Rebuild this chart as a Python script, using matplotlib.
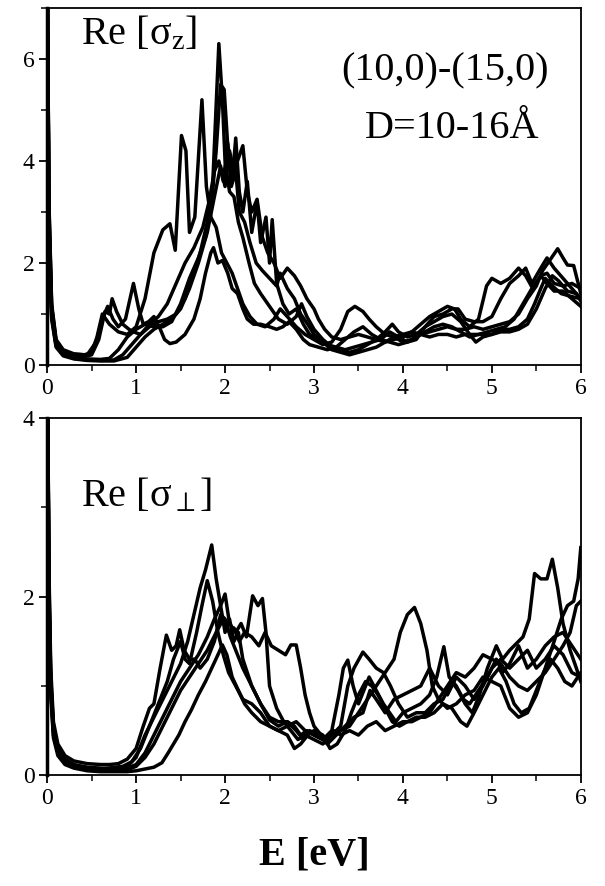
import matplotlib
matplotlib.use("Agg")
import matplotlib.pyplot as plt
from matplotlib.ticker import MultipleLocator

plt.rcParams["font.family"] = ["Liberation Serif", "DejaVu Serif"]
plt.rcParams["mathtext.fontset"] = "custom"
plt.rcParams["mathtext.rm"] = "Liberation Serif"
plt.rcParams["mathtext.it"] = "Liberation Serif:italic"

# ── Re[sigma_z] : (E [eV], value) for six tubes ──────────────────────────────
sz_e1 = [0, 0.02, 0.05, 0.1, 0.18, 0.3, 0.42, 0.5, 0.56, 0.62, 0.7, 0.8, 0.9, 1.0, 1.1, 1.2, 1.3, 1.38, 1.44, 1.51, 1.56, 1.6, 1.66, 1.74, 1.79, 1.84, 1.9, 1.96, 2.02, 2.08, 2.14, 2.2, 2.28, 2.36, 2.45, 2.55, 2.62, 2.7, 2.8, 2.9, 3.0, 3.1, 3.2, 3.3, 3.38, 3.46, 3.55, 3.62, 3.7, 3.8, 3.9, 4.0, 4.1, 4.2, 4.3, 4.4, 4.5, 4.58, 4.65, 4.75, 4.85, 4.94, 5.0, 5.1, 5.2, 5.3, 5.38, 5.46, 5.55, 5.62, 5.7, 5.8, 5.9, 6.0]
sz_v1 = [8, 3.2, 1.2, 0.5, 0.3, 0.22, 0.2, 0.25, 0.55, 1.0, 0.8, 0.65, 0.6, 0.75, 1.3, 2.2, 2.65, 2.77, 2.25, 4.5, 4.2, 2.6, 2.9, 5.2, 3.5, 2.9, 2.7, 2.2, 2.0, 1.8, 1.5, 1.2, 0.95, 0.8, 0.75, 0.9, 1.1, 0.95, 0.75, 0.6, 0.5, 0.4, 0.45, 0.7, 1.05, 1.15, 1.05, 0.9, 0.75, 0.6, 0.55, 0.6, 0.65, 0.8, 0.95, 1.05, 1.15, 1.1, 0.9, 0.75, 0.9, 1.55, 1.7, 1.6, 1.7, 1.9, 1.75, 1.5, 1.75, 1.6, 1.45, 1.45, 1.3, 1.15]

sz_e2 = [0, 0.02, 0.05, 0.1, 0.18, 0.3, 0.42, 0.5, 0.58, 0.65, 0.7, 0.73, 0.78, 0.85, 0.92, 0.97, 1.05, 1.15, 1.25, 1.35, 1.45, 1.55, 1.65, 1.72, 1.8, 1.86, 1.93, 1.97, 2.0, 2.05, 2.1, 2.15, 2.2, 2.27, 2.33, 2.4, 2.5, 2.6, 2.7, 2.8, 2.86, 2.92, 3.0, 3.1, 3.2, 3.3, 3.4, 3.5, 3.6, 3.7, 3.8, 3.88, 3.95, 4.05, 4.15, 4.25, 4.35, 4.45, 4.55, 4.62, 4.7, 4.8, 4.9, 5.0, 5.1, 5.2, 5.3, 5.38, 5.45, 5.55, 5.62, 5.7, 5.8, 5.9, 6.0]
sz_v2 = [8, 3.0, 1.1, 0.45, 0.26, 0.19, 0.17, 0.2, 0.5, 1.05, 1.0, 1.3, 1.05, 0.8, 0.7, 0.65, 0.6, 0.75, 0.85, 0.9, 1.0, 1.3, 1.8, 2.2, 2.8, 3.5, 6.3, 5.2, 4.0, 3.4, 3.3, 2.8, 2.5, 2.0, 1.6, 1.4, 1.15, 0.9, 0.8, 0.95, 1.2, 0.95, 0.7, 0.5, 0.35, 0.3, 0.25, 0.3, 0.4, 0.5, 0.65, 0.8, 0.65, 0.55, 0.6, 0.75, 0.95, 1.0, 1.1, 1.1, 0.9, 0.85, 0.85, 0.95, 1.3, 1.6, 1.75, 1.9, 1.6, 1.9, 2.1, 1.9, 1.7, 1.5, 1.3]

sz_e3 = [0, 0.02, 0.05, 0.1, 0.18, 0.3, 0.45, 0.6, 0.7, 0.8, 0.9, 1.0, 1.1, 1.2, 1.3, 1.4, 1.5, 1.6, 1.7, 1.78, 1.85, 1.9, 1.95, 1.99, 2.03, 2.07, 2.12, 2.16, 2.22, 2.28, 2.35, 2.42, 2.5, 2.58, 2.62, 2.7, 2.78, 2.85, 2.93, 3.0, 3.1, 3.2, 3.3, 3.4, 3.5, 3.6, 3.7, 3.8, 3.9, 4.0, 4.1, 4.2, 4.3, 4.4, 4.5, 4.6, 4.7, 4.8, 4.9, 5.0, 5.1, 5.2, 5.3, 5.4, 5.5, 5.57, 5.65, 5.74, 5.8, 5.85, 5.92, 6.0]
sz_v3 = [8, 2.8, 1.0, 0.4, 0.22, 0.15, 0.12, 0.11, 0.13, 0.3, 0.55, 0.7, 0.8, 0.75, 0.75, 0.85, 1.2, 1.7, 2.1, 2.5, 3.2, 4.2, 5.5, 5.4, 4.3, 3.5, 3.8, 3.0, 2.8, 2.4, 2.0, 1.85, 1.7, 1.55, 1.8, 1.5, 1.3, 1.0, 0.8, 0.6, 0.45, 0.3, 0.25, 0.2, 0.25, 0.3, 0.35, 0.45, 0.55, 0.45, 0.5, 0.6, 0.65, 0.7, 0.75, 0.7, 0.7, 0.75, 0.7, 0.75, 0.8, 0.85, 1.0, 1.3, 1.55, 1.85, 2.05, 2.28, 2.1, 1.96, 1.95, 1.4]

sz_e4 = [0, 0.02, 0.05, 0.1, 0.18, 0.3, 0.45, 0.6, 0.75, 0.85, 0.95, 1.05, 1.15, 1.25, 1.35, 1.45, 1.55, 1.65, 1.75, 1.82, 1.88, 1.93, 1.98, 2.03, 2.08, 2.12, 2.16, 2.2, 2.25, 2.3, 2.36, 2.4, 2.46, 2.5, 2.53, 2.58, 2.65, 2.72, 2.8, 2.88, 2.95, 3.05, 3.15, 3.25, 3.35, 3.45, 3.55, 3.65, 3.75, 3.85, 3.95, 4.05, 4.15, 4.25, 4.35, 4.45, 4.55, 4.65, 4.75, 4.85, 4.95, 5.05, 5.15, 5.25, 5.35, 5.45, 5.55, 5.62, 5.7, 5.8, 5.9, 6.0]
sz_v4 = [8, 2.7, 0.95, 0.38, 0.2, 0.13, 0.1, 0.09, 0.1, 0.2, 0.4, 0.6, 0.8, 0.95, 1.2, 1.6, 2.0, 2.3, 2.7, 3.2, 3.8, 4.0, 3.6, 4.35, 3.6, 4.45, 3.4, 3.0, 3.6, 2.6, 3.2, 2.4, 2.9, 2.0, 2.85, 1.6, 1.2, 1.0, 1.1, 0.8, 0.6, 0.5, 0.4, 0.35, 0.3, 0.35, 0.4, 0.45, 0.5, 0.45, 0.4, 0.45, 0.55, 0.65, 0.75, 0.8, 0.75, 0.65, 0.55, 0.6, 0.65, 0.7, 0.75, 0.9, 1.2, 1.5, 1.75, 1.8, 1.6, 1.55, 1.6, 1.5]

sz_e5 = [0, 0.02, 0.05, 0.1, 0.18, 0.3, 0.45, 0.6, 0.75, 0.9, 1.0, 1.1, 1.2, 1.3, 1.4, 1.5, 1.6, 1.7, 1.8, 1.88, 1.95, 2.0, 2.05, 2.1, 2.2, 2.25, 2.3, 2.36, 2.42, 2.48, 2.55, 2.62, 2.7, 2.78, 2.85, 2.92, 3.0, 3.05, 3.12, 3.2, 3.3, 3.4, 3.5, 3.6, 3.7, 3.8, 3.9, 4.0, 4.1, 4.2, 4.3, 4.4, 4.5, 4.6, 4.7, 4.8, 4.9, 5.0, 5.1, 5.2, 5.3, 5.4, 5.5, 5.6, 5.68, 5.75, 5.85, 5.95, 6.0]
sz_v5 = [8, 2.6, 0.9, 0.35, 0.18, 0.12, 0.09, 0.08, 0.08, 0.15, 0.35, 0.55, 0.7, 0.8, 0.9, 1.1, 1.5, 2.0, 2.6, 3.3, 3.9, 3.5, 4.2, 3.8, 4.3, 3.4, 3.0, 3.25, 2.5, 2.2, 2.0, 1.7, 1.9, 1.75, 1.55, 1.3, 1.1, 0.9, 0.7, 0.55, 0.5, 0.55, 0.6, 0.55, 0.5, 0.45, 0.5, 0.55, 0.65, 0.6, 0.55, 0.6, 0.6, 0.55, 0.6, 0.6, 0.6, 0.6, 0.65, 0.65, 0.7, 0.8, 1.1, 1.5, 1.75, 1.65, 1.45, 1.4, 1.25]

sz_e6 = [0, 0.02, 0.05, 0.1, 0.18, 0.3, 0.45, 0.55, 0.62, 0.68, 0.74, 0.8, 0.88, 0.97, 1.03, 1.08, 1.14, 1.2, 1.26, 1.32, 1.38, 1.45, 1.55, 1.65, 1.72, 1.78, 1.84, 1.87, 1.92, 1.97, 2.03, 2.08, 2.14, 2.2, 2.25, 2.32, 2.4, 2.5, 2.58, 2.65, 2.72, 2.8, 2.88, 2.95, 3.05, 3.15, 3.25, 3.35, 3.45, 3.55, 3.65, 3.75, 3.85, 3.95, 4.05, 4.15, 4.25, 4.35, 4.45, 4.55, 4.65, 4.75, 4.82, 4.9, 5.0, 5.1, 5.2, 5.3, 5.4, 5.48, 5.55, 5.6, 5.68, 5.78, 5.88, 6.0]
sz_v6 = [8, 3.1, 1.15, 0.48, 0.28, 0.21, 0.2, 0.45, 0.9, 1.15, 0.9, 0.75, 0.9, 1.6, 1.1, 0.8, 0.85, 0.95, 0.75, 0.5, 0.42, 0.45, 0.6, 0.9, 1.3, 1.8, 2.2, 2.3, 2.0, 2.05, 1.8, 1.5, 1.4, 1.1, 0.9, 0.8, 0.8, 0.75, 0.7, 0.75, 0.85, 0.7, 0.5, 0.4, 0.35, 0.3, 0.35, 0.5, 0.65, 0.75, 0.6, 0.5, 0.65, 0.55, 0.45, 0.5, 0.75, 0.85, 0.95, 1.0, 0.85, 0.6, 0.45, 0.55, 0.6, 0.7, 0.7, 0.75, 0.9, 1.2, 1.5, 1.7, 1.55, 1.4, 1.35, 1.3]

# ── Re[sigma_perp] ───────────────────────────────────────────────────────────
sp_e1 = [0, 0.02, 0.04, 0.07, 0.12, 0.2, 0.3, 0.45, 0.6, 0.7, 0.8, 0.9, 1.0, 1.08, 1.15, 1.2, 1.27, 1.34, 1.4, 1.45, 1.49, 1.54, 1.6, 1.66, 1.72, 1.8, 1.88, 1.95, 2.0, 2.06, 2.12, 2.2, 2.3, 2.4, 2.5, 2.6, 2.7, 2.78, 2.85, 2.92, 3.0, 3.1, 3.2, 3.28, 3.33, 3.38, 3.44, 3.5, 3.56, 3.62, 3.7, 3.78, 3.85, 3.92, 4.0, 4.1, 4.2, 4.3, 4.38, 4.46, 4.52, 4.6, 4.68, 4.75, 4.85, 4.95, 5.05, 5.12, 5.2, 5.3, 5.4, 5.5, 5.6, 5.7, 5.8, 5.9, 6.0]
sp_v1 = [5, 2.3, 1.2, 0.6, 0.35, 0.22, 0.16, 0.13, 0.12, 0.12, 0.13, 0.18, 0.3, 0.55, 0.75, 0.8, 1.2, 1.57, 1.4, 1.45, 1.63, 1.4, 1.3, 1.3, 1.2, 1.3, 1.5, 1.8, 1.75, 1.55, 1.4, 1.2, 1.0, 0.8, 0.65, 0.6, 0.6, 0.55, 0.45, 0.5, 0.45, 0.4, 0.5, 0.9, 1.2, 1.29, 1.0, 0.8, 0.95, 1.1, 0.95, 0.8, 0.7, 0.6, 0.7, 0.75, 0.8, 0.9, 1.1, 1.44, 1.1, 1.0, 0.85, 0.8, 0.95, 1.1, 1.3, 1.15, 1.25, 1.45, 1.2, 1.3, 1.45, 1.55, 1.6, 1.45, 1.3]

sp_e2 = [0, 0.02, 0.04, 0.07, 0.12, 0.2, 0.3, 0.45, 0.6, 0.8, 0.9, 1.0, 1.1, 1.2, 1.3, 1.4, 1.5, 1.58, 1.65, 1.72, 1.78, 1.85, 1.9, 1.95, 2.0, 2.05, 2.1, 2.15, 2.2, 2.3, 2.4, 2.5, 2.6, 2.7, 2.8, 2.88, 2.95, 3.05, 3.15, 3.25, 3.35, 3.45, 3.55, 3.63, 3.7, 3.8, 3.9, 4.0, 4.1, 4.2, 4.3, 4.4, 4.5, 4.6, 4.7, 4.8, 4.9, 5.0, 5.1, 5.2, 5.3, 5.4, 5.5, 5.6, 5.7, 5.8, 5.9, 6.0]
sp_v2 = [5, 2.2, 1.1, 0.55, 0.3, 0.18, 0.12, 0.09, 0.08, 0.07, 0.1, 0.2, 0.45, 0.65, 0.85, 1.05, 1.25, 1.5, 1.8, 2.1, 2.3, 2.58, 2.2, 1.9, 1.6, 1.75, 1.5, 1.6, 1.3, 1.0, 0.8, 0.62, 0.55, 0.6, 0.5, 0.4, 0.5, 0.45, 0.35, 0.45, 0.55, 0.65, 0.7, 0.95, 0.85, 0.7, 0.85, 0.9, 0.95, 1.0, 1.2, 1.0, 0.9, 1.1, 1.0, 0.85, 1.0, 1.2, 1.3, 1.2, 1.3, 1.4, 1.2, 1.3, 1.45, 1.35, 1.15, 1.1]

sp_e3 = [0, 0.02, 0.04, 0.07, 0.12, 0.2, 0.3, 0.45, 0.6, 0.85, 0.95, 1.05, 1.15, 1.25, 1.35, 1.42, 1.5, 1.55, 1.6, 1.68, 1.74, 1.8, 1.86, 1.92, 1.98, 2.04, 2.12, 2.2, 2.3, 2.4, 2.5, 2.6, 2.7, 2.8, 2.9, 3.0, 3.1, 3.2, 3.3, 3.4, 3.5, 3.6, 3.7, 3.8, 3.9, 3.97, 4.05, 4.13, 4.2, 4.27, 4.33, 4.4, 4.5, 4.6, 4.7, 4.8, 4.9, 5.0, 5.1, 5.2, 5.3, 5.4, 5.5, 5.6, 5.7, 5.78, 5.85, 5.92, 5.97, 6.0]
sp_v3 = [5, 2.0, 1.0, 0.5, 0.27, 0.16, 0.11, 0.08, 0.07, 0.1, 0.15, 0.3, 0.55, 0.8, 1.05, 1.3, 1.5, 1.3, 1.25, 1.6, 1.9, 2.18, 1.95, 1.6, 1.35, 1.15, 1.0, 0.85, 0.8, 0.7, 0.55, 0.5, 0.55, 0.6, 0.5, 0.45, 0.4, 0.45, 0.5, 0.55, 0.7, 0.85, 1.0, 1.15, 1.3, 1.6, 1.8, 1.88, 1.7, 1.4, 1.0, 0.85, 0.75, 0.8, 0.9, 0.95, 1.1, 1.05, 1.0, 0.75, 0.65, 0.7, 0.9, 1.2, 1.5, 1.75, 1.9, 1.95, 2.2, 2.55]

sp_e4 = [0, 0.02, 0.04, 0.07, 0.12, 0.2, 0.3, 0.45, 0.6, 0.9, 1.0, 1.1, 1.2, 1.3, 1.4, 1.5, 1.6, 1.7, 1.8, 1.88, 1.95, 2.0, 2.05, 2.12, 2.18, 2.24, 2.31, 2.37, 2.42, 2.46, 2.5, 2.58, 2.66, 2.74, 2.82, 2.9, 3.0, 3.1, 3.2, 3.3, 3.38, 3.45, 3.55, 3.62, 3.7, 3.78, 3.86, 3.95, 4.05, 4.15, 4.25, 4.35, 4.45, 4.55, 4.62, 4.7, 4.78, 4.86, 4.95, 5.05, 5.12, 5.2, 5.3, 5.35, 5.42, 5.48, 5.55, 5.62, 5.68, 5.74, 5.8, 5.88, 5.95, 6.0]
sp_v4 = [5, 2.1, 1.05, 0.5, 0.28, 0.16, 0.1, 0.07, 0.06, 0.08, 0.12, 0.25, 0.45, 0.65, 0.85, 1.05, 1.2, 1.35, 1.55, 1.75, 1.9, 2.03, 1.7, 1.6, 1.7, 1.55, 2.01, 1.9, 1.98, 1.6, 1.0, 0.75, 0.6, 0.5, 0.4, 0.45, 0.4, 0.35, 0.45, 0.55, 1.0, 1.2, 1.38, 1.3, 1.2, 1.15, 1.0, 0.8, 0.65, 0.7, 0.7, 0.8, 0.85, 1.05, 0.95, 0.8, 0.7, 0.9, 1.2, 1.45, 1.3, 1.4, 1.5, 1.55, 1.75, 2.26, 2.2, 2.2, 2.42, 2.1, 1.7, 1.4, 1.2, 1.05]

sp_e5 = [0, 0.02, 0.04, 0.07, 0.12, 0.2, 0.3, 0.45, 0.6, 0.9, 1.0, 1.1, 1.2, 1.3, 1.4, 1.5, 1.6, 1.7, 1.8, 1.9, 1.98, 2.05, 2.1, 2.16, 2.22, 2.3, 2.38, 2.45, 2.52, 2.6, 2.68, 2.74, 2.8, 2.85, 2.9, 2.95, 3.0, 3.08, 3.15, 3.22, 3.3, 3.4, 3.5, 3.6, 3.7, 3.8, 3.9, 4.0, 4.1, 4.2, 4.3, 4.4, 4.5, 4.6, 4.7, 4.8, 4.9, 5.0, 5.1, 5.2, 5.3, 5.4, 5.5, 5.6, 5.7, 5.8, 5.88, 5.95, 6.0]
sp_v5 = [5, 2.0, 0.95, 0.45, 0.25, 0.14, 0.09, 0.06, 0.05, 0.06, 0.1, 0.2, 0.35, 0.55, 0.75, 0.95, 1.1, 1.25, 1.4, 1.6, 1.75, 1.6, 1.65, 1.5, 1.6, 1.55, 1.45, 1.6, 1.45, 1.4, 1.35, 1.46, 1.46, 1.2, 0.9, 0.7, 0.55, 0.45, 0.4, 0.5, 0.45, 0.5, 0.45, 0.55, 0.6, 0.5, 0.55, 0.6, 0.6, 0.65, 0.7, 0.85, 1.0, 1.15, 1.1, 1.2, 1.35, 1.3, 1.25, 1.1, 1.0, 0.95, 1.05, 1.15, 1.3, 1.45, 1.6, 1.9, 1.95]

sp_e6 = [0, 0.02, 0.04, 0.07, 0.12, 0.2, 0.3, 0.45, 0.6, 0.9, 1.0, 1.1, 1.2, 1.29, 1.36, 1.42, 1.48, 1.55, 1.62, 1.7, 1.78, 1.85, 1.92, 1.97, 2.02, 2.08, 2.15, 2.22, 2.3, 2.4, 2.5, 2.6, 2.7, 2.78, 2.85, 2.93, 3.0, 3.1, 3.18, 3.26, 3.35, 3.42, 3.5, 3.58, 3.65, 3.72, 3.8, 3.88, 3.96, 4.05, 4.15, 4.25, 4.35, 4.45, 4.55, 4.65, 4.72, 4.8, 4.9, 5.0, 5.08, 5.16, 5.25, 5.33, 5.42, 5.5, 5.58, 5.66, 5.74, 5.82, 5.9, 6.0]
sp_v6 = [5, 1.9, 0.9, 0.42, 0.22, 0.12, 0.08, 0.05, 0.04, 0.04, 0.05, 0.07, 0.09, 0.14, 0.25, 0.35, 0.45, 0.6, 0.73, 0.9, 1.05, 1.2, 1.35, 1.46, 1.35, 1.1, 0.95, 0.8, 0.7, 0.6, 0.55, 0.5, 0.45, 0.3, 0.35, 0.45, 0.5, 0.45, 0.3, 0.35, 0.5, 0.7, 0.9, 1.05, 1.0, 0.9, 0.75, 0.6, 0.55, 0.6, 0.65, 0.65, 0.7, 0.8, 0.75, 0.6, 0.55, 0.7, 0.9, 1.1, 1.2, 1.05, 0.8, 0.7, 0.75, 0.95, 1.15, 1.3, 1.2, 1.05, 1.0, 1.15]

sz_curves = [(sz_e1, sz_v1), (sz_e2, sz_v2), (sz_e3, sz_v3),
             (sz_e4, sz_v4), (sz_e5, sz_v5), (sz_e6, sz_v6)]
sp_curves = [(sp_e1, sp_v1), (sp_e2, sp_v2), (sp_e3, sp_v3),
             (sp_e4, sp_v4), (sp_e5, sp_v5), (sp_e6, sp_v6)]


def style(ax, ymax):
    ax.set_xlim(0, 6)
    ax.set_ylim(0, ymax)
    ax.xaxis.set_major_locator(MultipleLocator(1))
    ax.xaxis.set_minor_locator(MultipleLocator(0.5))
    ax.yaxis.set_major_locator(MultipleLocator(2))
    ax.yaxis.set_minor_locator(MultipleLocator(1))
    ax.tick_params(which="major", direction="out", length=6, width=1.3,
                   labelsize=17, pad=3)
    ax.tick_params(which="minor", direction="out", length=4, width=1.1)
    for sp in ax.spines.values():
        sp.set_linewidth(1.3)
    ax.spines["left"].set_linewidth(2.5)


fig = plt.figure(figsize=(6.05, 8.86), dpi=100)
ax1 = fig.add_axes([0.078, 0.588, 0.882, 0.403])
ax2 = fig.add_axes([0.078, 0.125, 0.882, 0.403])

for e, v in sz_curves:
    ax1.plot(e, v, color="black", lw=2.5, solid_joinstyle="round")
for e, v in sp_curves:
    ax2.plot(e, v, color="black", lw=2.5, solid_joinstyle="round")

style(ax1, 7)
style(ax2, 4)

ax1.text(0.38, 6.5, r"Re [σ$_\mathrm{z}$]", fontsize=29, ha="left", va="center")
ax1.text(4.47, 5.76, "(10,0)-(15,0)", fontsize=29, ha="center", va="center")
ax1.text(4.55, 4.63, "D=10-16Å", fontsize=29, ha="center", va="center")
ax2.text(0.38, 3.13, r"Re [σ$_\perp$]", fontsize=29, ha="left", va="center")

fig.text(0.52, 0.035, "E [eV]", fontsize=29, fontweight="bold",
         ha="center", va="center")

fig.savefig("out.png", dpi=100)
